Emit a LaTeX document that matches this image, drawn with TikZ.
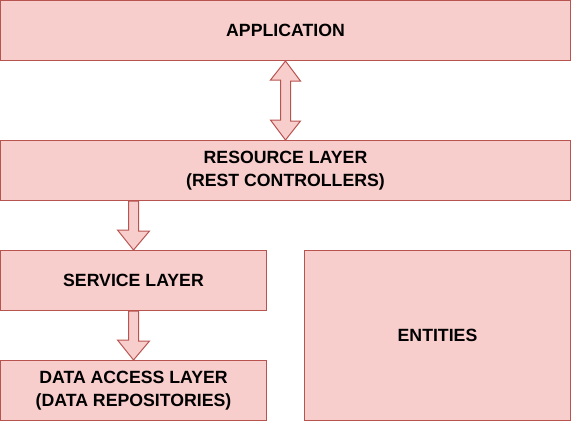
\documentclass[tikz,border=0pt]{standalone}
\usepackage{fontspec}
\setmainfont{Liberation Sans}
\usepackage{tikz}
\usetikzlibrary{positioning, calc}
\definecolor{boxfill}{HTML}{F8CECC}
\definecolor{boxline}{HTML}{B85450}
\tikzstyle{BlockArrow} = [
%Fat arrow between the layers:
draw = boxline, fill = boxfill, line width = 1pt, line join = miter
]

\begin{document}
\begin{tikzpicture}[
					      x = 1pt, y = -1pt,
					      layer/.style = {rectangle, draw = boxline, fill = boxfill, line width = 1pt, inner sep = 0pt, align = center, font = \fontsize{17.7}{22.5}\selectfont\bfseries},
					      wide/.style = {layer, minimum width = 570pt, minimum height = 60pt},
					      half/.style = {layer, minimum width = 266pt, minimum height = 60pt},
				      ]
				      \useasboundingbox (0,0) rectangle (571,421);
				      \node[wide](app) at (285.5,30.5){APPLICATION};
				      \node[wide](res) at (285.5,170.5){RESOURCE LAYER\\(REST CONTROLLERS)};
				      \node[half](svc) at (133.5,280.5){SERVICE LAYER};
				      \node[half](dal) at (133.5,390.5){DATA ACCESS LAYER\\(DATA REPOSITORIES)};
				      \node[layer, minimum width = 266pt, minimum height = 170pt](ent) at (437.5,335.5){ENTITIES};

				      % application <-> resource layer
				      \draw[BlockArrow](app.south) -- ++(15,20) -- ++(-10,0) -- ++(0,40) -- ++(10,0) -- (res.north)
				      -- ++(-15,-20) -- ++(10,0) -- ++(0,-40) -- ++(-10,0) -- cycle;
				      % resource layer -> service layer
				      \draw[BlockArrow]($(svc.north |- res.south)+(-5,0)$) -- ++(10,0) -- ++(0,30) -- ++(11,0) -- (svc.north)
				      -- ++(-16,-20) -- ++(11,0) -- cycle;
				      % service layer -> data access layer
				      \draw[BlockArrow]($(svc.south)+(-5,0)$) -- ++(10,0) -- ++(0,30) -- ++(11,0) -- (dal.north)
				      -- ++(-16,-20) -- ++(11,0) -- cycle;
			      \end{tikzpicture}
\end{document}
